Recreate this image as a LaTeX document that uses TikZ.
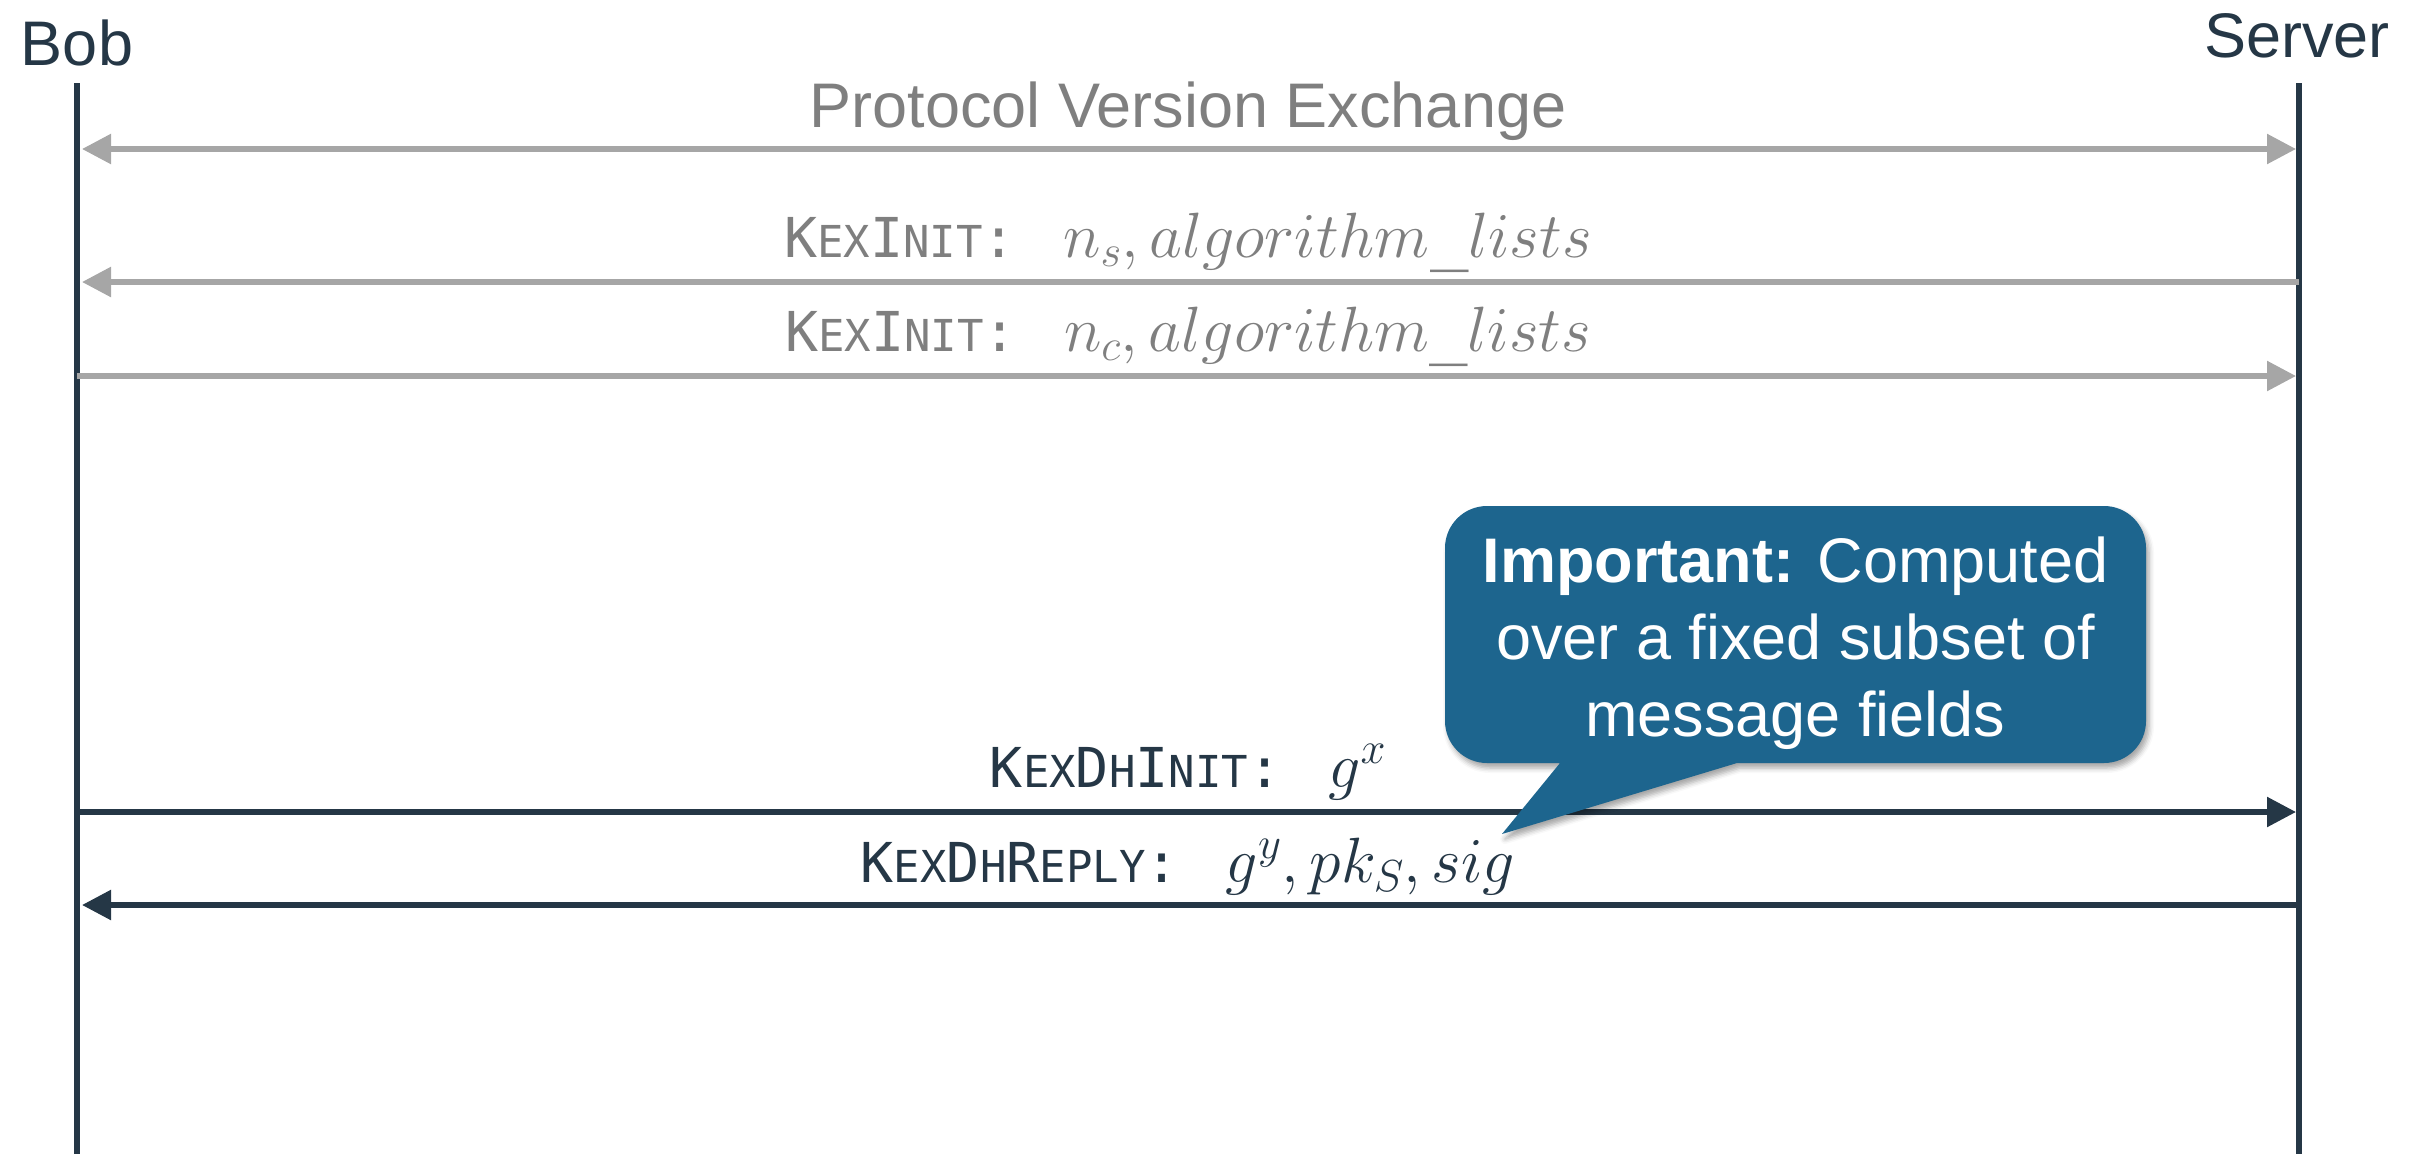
\documentclass[tikz,border=0pt]{standalone}
\usepackage{fix-cm}
\usepackage{fontspec}
\setmainfont{Liberation Sans}
\newfontfamily\monofont{DejaVu Sans Mono}
\usetikzlibrary{arrows.meta,shadows.blur}

\definecolor{navy}{HTML}{253746}
\definecolor{msggray}{HTML}{A6A6A6}
\definecolor{txtgray}{HTML}{7F7F7F}
\definecolor{callblue}{HTML}{1D658E}

% message names: large capitals and small capitals in a monospaced face
\newcommand\capA[1]{{\fontsize{55}{60}\selectfont #1}}
\newcommand\capB[1]{{\fontsize{44}{50}\selectfont #1}}
\newcommand\mathpart[1]{{\fontsize{64}{64}\selectfont $#1$}}

\tikzset{
  actor/.style={font=\fontsize{63}{70}\selectfont, text=navy, inner sep=0pt, anchor=base},
  lifeline/.style={draw=navy, line width=5.5pt},
  darkmsg/.style={draw=navy, line width=5.5pt},
  lightmsg/.style={draw=msggray, line width=5.5pt},
  tipR/.style={-{Triangle[length=29pt,width=29pt]}},
  tipL/.style={{Triangle[length=29pt,width=29pt]}-},
  tipLR/.style={{Triangle[length=29pt,width=29pt]}-{Triangle[length=29pt,width=29pt]}},
  msglabel/.style={inner sep=0pt, anchor=base},
  callout/.style={fill=callblue, blur shadow={shadow xshift=3pt, shadow yshift=-5pt, shadow blur radius=5pt, shadow opacity=35}},
  callouttext/.style={font=\fontsize{63}{77}\selectfont, text=white, align=center, inner sep=0pt, anchor=north},
}

\begin{document}
\begin{tikzpicture}[x=1pt, y=-1pt]
\useasboundingbox (0,0) rectangle (2412,1154);

% participants
\node[actor] (bob) at (77,65) {Bob};
\node[actor] (server) at (2297,57) {Server};

\coordinate (bobtop) at (77,83);
\coordinate (bobbot) at (77,1154);
\coordinate (srvtop) at (2299,83);
\coordinate (srvbot) at (2299,1154);
\draw[lifeline] (bobtop) -- (bobbot);
\draw[lifeline] (srvtop) -- (srvbot);

% message end points
\coordinate (b1) at (82,149);   \coordinate (s1) at (2296,149);
\coordinate (b2) at (82,282);   \coordinate (s2) at (2299,282);
\coordinate (b3) at (77,376);   \coordinate (s3) at (2296,376);
\coordinate (b4) at (77,812);   \coordinate (s4) at (2296,812);
\coordinate (b5) at (82,905);   \coordinate (s5) at (2299,905);

% protocol version exchange and algorithm negotiation
\node[msglabel, text=txtgray, font=\fontsize{63}{70}\selectfont] (pve) at (1188,127) {Protocol Version Exchange};
\draw[lightmsg, tipLR] (b1) -- (s1);

\node[msglabel, text=txtgray] (kexs) at (1188,257)
  {\monofont\capA{K}\capB{EX}\capA{I}\capB{NIT}\capA{:\ }\hspace{14pt}\mathpart{n_s, algorithm\_lists}};
\draw[lightmsg, tipR] (s2) -- (b2);

\node[msglabel, text=txtgray] (kexc) at (1188,351)
  {\monofont\capA{K}\capB{EX}\capA{I}\capB{NIT}\capA{:\ }\hspace{14pt}\mathpart{n_c, algorithm\_lists}};
\draw[lightmsg, tipR] (b3) -- (s3);

% Diffie-Hellman exchange
\node[msglabel, text=navy] (dhinit) at (1188,787)
  {\monofont\capA{K}\capB{EX}\capA{D}\capB{H}\capA{I}\capB{NIT}\capA{:\ }\hspace{14pt}\mathpart{g^x}};
\draw[darkmsg, tipR] (b4) -- (s4);

\node[msglabel, text=navy] (dhreply) at (1188,882)
  {\monofont\capA{K}\capB{EX}\capA{D}\capB{H}\capA{R}\capB{EPLY}\capA{:\ }\hspace{14pt}\mathpart{g^y, pk_S, sig}};
\draw[darkmsg, tipR] (s5) -- (b5);

% callout on the signature
\def\rr{42}
\fill[callout] (1445,506+\rr) arc[start angle=180, end angle=270, radius=\rr]
  -- (2146-\rr,506) arc[start angle=270, end angle=360, radius=\rr]
  -- (2146,763-\rr) arc[start angle=0, end angle=90, radius=\rr]
  -- (1737,763) -- (1502,834) -- (1560,763)
  -- (1445+\rr,763) arc[start angle=90, end angle=180, radius=\rr] -- cycle;
\node[callouttext] (note) at (1795.5,537)
  {\textbf{Important:} Computed\\over a fixed subset of\\message fields};
\end{tikzpicture}
\end{document}
